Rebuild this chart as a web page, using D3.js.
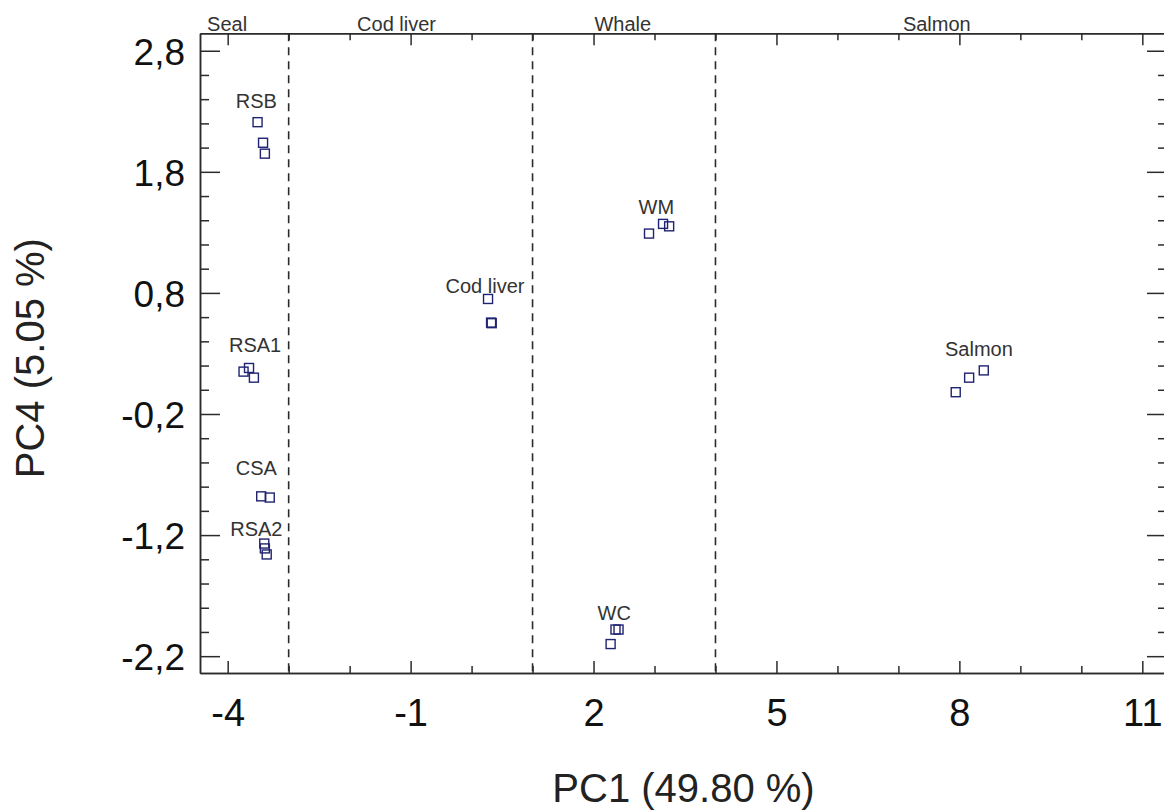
<!DOCTYPE html>
<html>
<head>
<meta charset="utf-8">
<script src="https://cdn.jsdelivr.net/npm/d3@7"></script>
<style>
  html, body { margin: 0; padding: 0; background: #fff; }
  svg { display: block; font-family: "Liberation Sans", Arial, sans-serif; }
</style>
</head>
<body>
<svg id="chart" width="1164" height="811"></svg>
<script>
// Score plot, PC1 vs PC4, oil samples grouped by source
const groups = ["RSB", "RSA1", "CSA", "RSA2", "Cod liver", "WM", "WC", "Salmon"];

const pointGroup = ["RSB","RSB","RSB","RSA1","RSA1","RSA1","CSA","CSA","RSA2","RSA2","RSA2",
                    "Cod liver","Cod liver","Cod liver","WM","WM","WM","WC","WC","WC",
                    "Salmon","Salmon","Salmon"];
const pc1 = [-3.51,-3.42,-3.39, -3.74,-3.65,-3.57, -3.45,-3.31, -3.40,-3.39,-3.36,
             0.27,0.32,0.33, 2.91,3.14,3.24, 2.28,2.36,2.41, 7.94,8.16,8.40];
const pc4 = [2.21,2.04,1.95, 0.15,0.18,0.10, -0.88,-0.89, -1.27,-1.31,-1.36,
             0.75,0.555,0.55, 1.29,1.37,1.35, -2.10,-1.98,-1.98, -0.02,0.10,0.16];

// label anchors (data units) for each sample group
const labelPC1 = [-3.53, -3.55, -3.53, -3.53, 0.22, 3.03, 2.34, 8.32];
const labelPC4 = [2.33, 0.31, -0.70, -1.21, 0.80, 1.45, -1.90, 0.28];

// source regions separated by dashed lines
const regionNames = ["Seal", "Cod liver", "Whale", "Salmon"];
const regionLabelPC1 = [-4.01, -1.23, 2.48, 7.63];
const regionBounds = [-3, 1, 4];

const xMajor = [-4, -1, 2, 5, 8, 11];
const xMinor = d3.range(-4, 12).filter(v => !xMajor.includes(v));
const yMajor = [-2.2, -1.2, -0.2, 0.8, 1.8, 2.8];
const yMinor = d3.range(-22, 29, 2).map(v => v / 10).filter(v => !yMajor.some(m => Math.abs(m - v) < 1e-9));

const xTitle = "PC1 (49.80 %)";
const yTitle = "PC4 (5.05 %)";

const svg = d3.select("#chart");
const L = 200, R = 1167, T = 33.3, B = 673;

const x = d3.scaleLinear().domain([-4.454, 11.405]).range([L, R]);
const y = d3.scaleLinear().domain([-2.339, 2.944]).range([B, T]);

// decimal comma and a plain hyphen for negatives
const comma = v => d3.format(".1f")(v).replace(".", ",").replace("\u2212", "-");
const axisColor = "#2b2b2b";

function styleAxis(g) {
  g.selectAll("path.domain").attr("stroke", axisColor).attr("stroke-width", 1.5);
  g.selectAll(".tick line").attr("stroke", axisColor).attr("stroke-width", 1.5);
}

// minor ticks
svg.append("g").attr("transform", `translate(0,${B})`)
  .call(d3.axisBottom(x).tickValues(xMinor).tickSize(-7).tickSizeOuter(0).tickFormat(""))
  .call(styleAxis);
svg.append("g").attr("transform", `translate(0,${T})`)
  .call(d3.axisTop(x).tickValues(xMinor).tickSize(-7).tickSizeOuter(0).tickFormat(""))
  .call(styleAxis);
svg.append("g").attr("transform", `translate(${L},0)`)
  .call(d3.axisLeft(y).tickValues(yMinor).tickSize(-9).tickSizeOuter(0).tickFormat(""))
  .call(styleAxis);
svg.append("g").attr("transform", `translate(${R},0)`)
  .call(d3.axisRight(y).tickValues(yMinor).tickSize(-9).tickSizeOuter(0).tickFormat(""))
  .call(styleAxis);

// major ticks with labels
const xAxis = svg.append("g").attr("transform", `translate(0,${B})`)
  .call(d3.axisBottom(x).tickValues(xMajor).tickSize(-12).tickSizeOuter(0)
        .tickPadding(26).tickFormat(d => String(d)))
  .call(styleAxis);
xAxis.selectAll("text").attr("font-size", 38).attr("fill", "#111")
  .attr("font-family", '"Liberation Sans", Arial, sans-serif');

svg.append("g").attr("transform", `translate(0,${T})`)
  .call(d3.axisTop(x).tickValues(xMajor).tickSize(-12).tickSizeOuter(0).tickFormat(""))
  .call(styleAxis);

const yAxis = svg.append("g").attr("transform", `translate(${L},0)`)
  .call(d3.axisLeft(y).tickValues(yMajor).tickSize(-20).tickSizeOuter(0)
        .tickPadding(15).tickFormat(comma))
  .call(styleAxis);
yAxis.selectAll("text").attr("font-size", 37).attr("fill", "#111").attr("dy", "0.37em")
  .attr("font-family", '"Liberation Sans", Arial, sans-serif');

svg.append("g").attr("transform", `translate(${R},0)`)
  .call(d3.axisRight(y).tickValues(yMajor).tickSize(-20).tickSizeOuter(0).tickFormat(""))
  .call(styleAxis);

// dashed region dividers
svg.append("g").selectAll("line").data(regionBounds).join("line")
  .attr("x1", d => x(d)).attr("x2", d => x(d))
  .attr("y1", T).attr("y2", B)
  .attr("stroke", axisColor).attr("stroke-width", 1.6)
  .attr("stroke-dasharray", "8,6");

// region names above the frame
svg.append("g").selectAll("text").data(regionNames).join("text")
  .attr("x", (d, i) => x(regionLabelPC1[i]))
  .attr("y", 30.5)
  .attr("text-anchor", "middle")
  .attr("font-size", 20).attr("fill", "#333")
  .text(d => d);

// sample markers
svg.append("g").selectAll("rect").data(pc1).join("rect")
  .attr("x", (d, i) => x(d) - 4.5)
  .attr("y", (d, i) => y(pc4[i]) - 4.5)
  .attr("width", 9).attr("height", 9)
  .attr("fill", "none")
  .attr("stroke", "#1f2370").attr("stroke-width", 1.4)
  .attr("data-group", (d, i) => pointGroup[i]);

// group labels
svg.append("g").selectAll("text").data(groups).join("text")
  .attr("x", (d, i) => x(labelPC1[i]))
  .attr("y", (d, i) => y(labelPC4[i]))
  .attr("text-anchor", "middle")
  .attr("font-size", 20).attr("fill", "#333")
  .text(d => d);

// axis titles
svg.append("text")
  .attr("x", (L + R) / 2).attr("y", 802)
  .attr("text-anchor", "middle")
  .attr("font-size", 40).attr("fill", "#222")
  .text(xTitle);

svg.append("text")
  .attr("transform", `translate(44,${(T + B) / 2 + 5}) rotate(-90)`)
  .attr("text-anchor", "middle")
  .attr("font-size", 40).attr("fill", "#222")
  .text(yTitle);
</script>
</body>
</html>
